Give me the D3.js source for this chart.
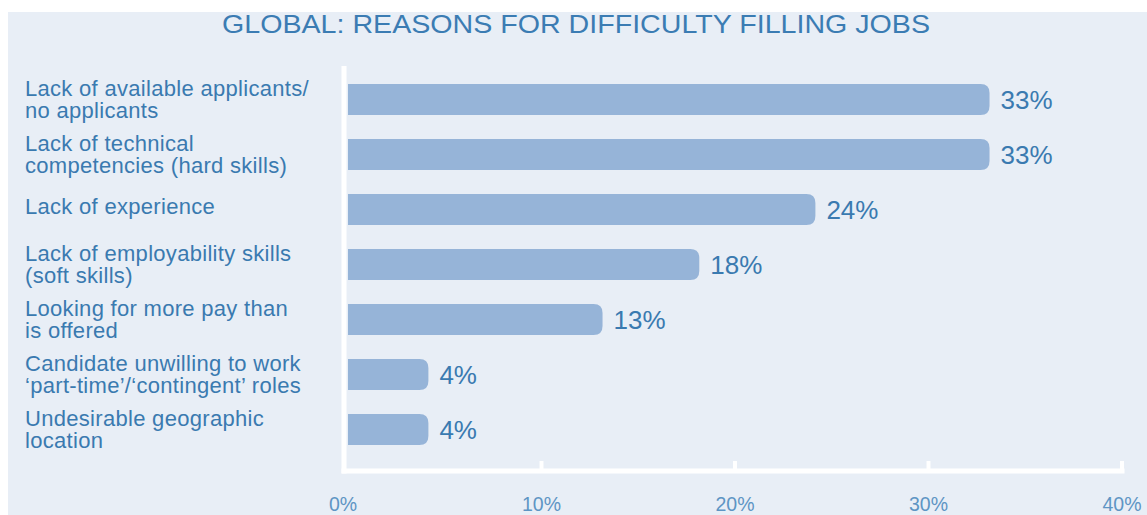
<!DOCTYPE html>
<html>
<head>
<meta charset="utf-8">
<script src="https://cdn.jsdelivr.net/npm/d3@7"></script>
<style>
  html, body { margin: 0; padding: 0; background: #ffffff; }
  svg { display: block; font-family: "Liberation Sans", Arial, Helvetica, sans-serif; }
</style>
</head>
<body>
<svg id="chart" width="1147" height="515"></svg>
<script>
const title = "GLOBAL: REASONS FOR DIFFICULTY FILLING JOBS";
const categories = [
  ["Lack of available applicants/", "no applicants"],
  ["Lack of technical", "competencies (hard skills)"],
  ["Lack of experience"],
  ["Lack of employability skills", "(soft skills)"],
  ["Looking for more pay than", "is offered"],
  ["Candidate unwilling to work", "\u2018part-time\u2019/\u2018contingent\u2019 roles"],
  ["Undesirable geographic", "location"]
];
const values = [33, 33, 24, 18, 13, 4, 4];
const tickValues = [0, 10, 20, 30, 40];
const tickLabels = ["0%", "10%", "20%", "30%", "40%"];

const svg = d3.select("#chart");
const bg = "#e8eef6", barColor = "#96b4d8", textColor = "#3a7ab0", tickColor = "#5e95c4";

svg.append("rect").attr("x", 8).attr("y", 12).attr("width", 1139).attr("height", 503).attr("fill", bg);

svg.append("text")
  .attr("x", 222).attr("y", 33)
  .attr("textLength", 708).attr("lengthAdjust", "spacingAndGlyphs")
  .attr("font-size", 26).attr("fill", "#3b7cb3")
  .text(title);

const x = d3.scaleLinear().domain([0, 40]).range([348, 1122]);
const y = d3.scaleBand().domain(d3.range(categories.length)).range([72, 457])
  .paddingInner(0.436).paddingOuter(0.218);

// bars with rounded right ends
const r = 9, ext = 3;
svg.append("g").selectAll("path").data(values).join("path")
  .attr("fill", barColor)
  .attr("d", (v, i) => {
    const x0 = x(0), x1 = x(v) + ext, y0 = y(i), h = y.bandwidth();
    return `M${x0},${y0} H${x1 - r} Q${x1},${y0} ${x1},${y0 + r} V${y0 + h - r} Q${x1},${y0 + h} ${x1 - r},${y0 + h} H${x0} Z`;
  });

// value labels
svg.append("g").selectAll("text").data(values).join("text")
  .attr("x", v => x(v) + ext + 11)
  .attr("y", (v, i) => y(i) + y.bandwidth() / 2 + 9)
  .attr("font-size", 26).attr("fill", textColor)
  .text(v => v + "%");

// category labels
const lh = 22;
const lg = svg.append("g").attr("letter-spacing", 0.3);
categories.forEach((lines, i) => {
  const c = y(i) + y.bandwidth() / 2;
  const t = lg.append("text").attr("font-size", 22).attr("fill", textColor);
  const shift = lines.length === 1 ? -3 : 0;
  lines.forEach((ln, k) => {
    t.append("tspan").attr("x", 25)
      .attr("y", c + (k - (lines.length - 1) / 2) * lh + 7.5 + shift)
      .text(ln);
  });
});

// axes (white lines)
const axisY = 471;
svg.append("line").attr("x1", 344).attr("x2", 344).attr("y1", 66).attr("y2", axisY + 2.5)
  .attr("stroke", "#ffffff").attr("stroke-width", 5);
svg.append("line").attr("x1", 341.5).attr("x2", x(40) + 2.5).attr("y1", axisY).attr("y2", axisY)
  .attr("stroke", "#ffffff").attr("stroke-width", 5);
svg.append("g").selectAll("line").data(tickValues.slice(1)).join("line")
  .attr("x1", d => x(d)).attr("x2", d => x(d))
  .attr("y1", axisY - 10).attr("y2", axisY)
  .attr("stroke", "#ffffff").attr("stroke-width", 4);

svg.append("g").selectAll("text").data(tickValues).join("text")
  .attr("x", (d, i) => i === 0 ? x(d) - 5 : x(d))
  .attr("y", 511)
  .attr("text-anchor", "middle")
  .attr("font-size", 19.5).attr("fill", tickColor)
  .text((d, i) => tickLabels[i]);
</script>
</body>
</html>
